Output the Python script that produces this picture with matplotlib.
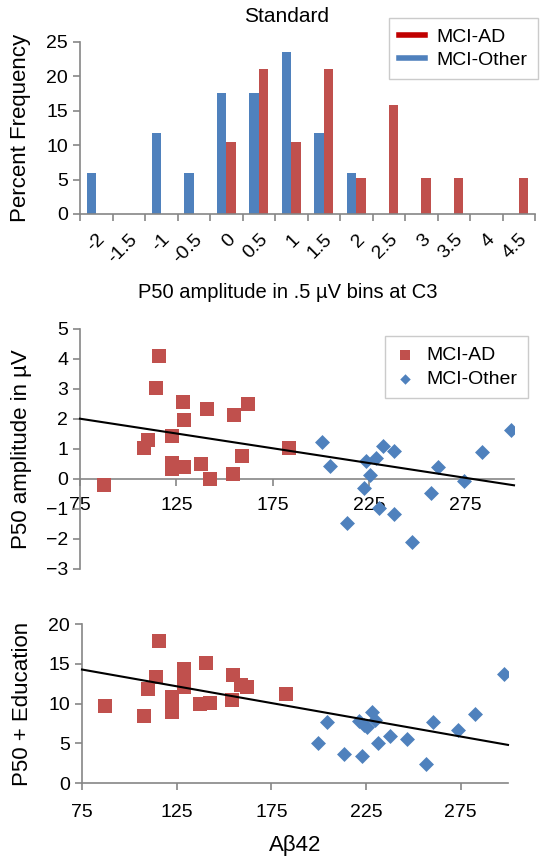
import matplotlib
matplotlib.use("Agg")
import matplotlib.pyplot as plt
from matplotlib.lines import Line2D
import numpy as np

plt.rcParams['font.family'] = ['Liberation Sans', 'DejaVu Sans']

# histogram of P50 amplitude (percent of each group per .5 uV bin)
bins = ['-2', '-1.5', '-1', '-0.5', '0', '0.5', '1', '1.5', '2', '2.5', '3', '3.5', '4', '4.5']
pct_other = [5.9, 0, 11.8, 5.9, 17.6, 17.6, 23.5, 11.8, 5.9, 0, 0, 0, 0, 0]
pct_ad = [0, 0, 0, 0, 10.5, 21.1, 10.5, 21.1, 5.3, 15.8, 5.3, 5.3, 0, 5.3]

# MCI-AD scatter values
ad_abeta = [87.2, 108.2, 110.2, 114.2, 115.8, 122.7, 122.9, 122.9, 128.6, 128.9, 128.9,
            137.6, 140.7, 142.5, 154.3, 154.7, 159.1, 162.1, 183.2]
ad_p50 = [-0.2, 1.04, 1.3, 3.02, 4.09, 1.41, 0.54, 0.32, 2.56, 1.97, 0.4,
          0.5, 2.31, 0.0, 0.16, 2.12, 0.76, 2.48, 1.02]
ad_abeta_edu = [87.0, 108.0, 109.8, 113.9, 115.5, 122.7, 122.7, 122.7, 128.8, 128.8, 128.8,
                137.3, 140.4, 142.6, 154.1, 154.8, 158.9, 162.0, 182.8]
ad_p50_edu = [9.7, 8.4, 11.9, 13.3, 17.9, 10.8, 10.0, 9.0, 14.4, 12.6, 12.1,
              10.0, 15.1, 10.1, 10.5, 13.6, 12.4, 12.1, 11.2]

# MCI-Other scatter values
oth_abeta = [200.3, 204.8, 213.5, 222.1, 223.3, 225.3, 228.4, 229.9, 232.0, 238.0, 238.0,
             246.9, 257.1, 260.7, 274.2, 283.2, 298.5]
oth_p50 = [1.24, 0.43, -1.46, -0.31, 0.58, 0.14, 0.68, -0.98, 1.08, 0.93, -1.18,
           -2.1, -0.46, 0.4, -0.07, 0.9, 1.62]
oth_abeta_edu = [199.8, 204.4, 213.2, 221.4, 222.9, 224.1, 225.3, 228.1, 229.9, 231.3, 237.6,
                 246.4, 256.6, 260.3, 273.6, 282.6, 298.0]
oth_p50_edu = [5.0, 7.7, 3.6, 7.8, 3.4, 7.3, 7.0, 8.9, 8.0, 5.1, 5.9,
               5.6, 2.4, 7.7, 6.7, 8.7, 13.7]

# linear trend lines as drawn in the original (value at x=75 and at x=300)
trend_x = [75, 300]
trend_amp = [2.0, -0.22]
trend_edu = [14.3, 4.8]

red = '#C0504D'
blue = '#4F81BD'
gray = '#868686'

fig = plt.figure(figsize=(5.48, 8.64), dpi=100)


def style_axes(ax):
    for s in ['top', 'right']:
        ax.spines[s].set_visible(False)
    for s in ['left', 'bottom']:
        ax.spines[s].set_color(gray)
        ax.spines[s].set_linewidth(1.2)
    ax.tick_params(colors=gray, labelcolor='black', labelsize=14, length=5, width=1.2)


# ---- top: histogram ----
ax1 = fig.add_axes([80 / 548, 1 - 214 / 864, 455 / 548, 172 / 864])
style_axes(ax1)
x = np.arange(len(bins))
w = 1 / 3.5
ax1.bar(x - w / 2, pct_other, width=w, color=blue)
ax1.bar(x + w / 2, pct_ad, width=w, color=red)
ax1.set_xlim(-0.5, len(bins) - 0.5)
ax1.set_ylim(0, 25)
ax1.set_yticks(range(0, 26, 5))
ax1.set_xticks(np.arange(-0.5, len(bins)), [''] * (len(bins) + 1))
ax1.set_xticks(x, bins, minor=True)
ax1.tick_params(axis='x', which='minor', length=0, pad=12)
for lab in ax1.get_xticklabels(minor=True):
    lab.set_rotation(45)
    lab.set_ha('right')
    lab.set_va('top')
    lab.set_rotation_mode('anchor')
    lab.set_fontsize(14)
ax1.set_ylabel('Percent Frequency', fontsize=16, labelpad=11)
fig.text(287 / 548, 1 - 17 / 864, 'Standard', ha='center', va='center', fontsize=15)
fig.text(288 / 548, 1 - 292 / 864, 'P50 amplitude in .5 µV bins at C3', ha='center', va='center', fontsize=14.5)
handles = [Line2D([], [], color='#C00000', lw=4), Line2D([], [], color=blue, lw=4)]
leg1 = fig.legend(handles, ['MCI-AD', 'MCI-Other'], loc='upper right',
                  bbox_to_anchor=(538 / 548, 1 - 18 / 864), fontsize=14, fancybox=False,
                  edgecolor='#BFBFBF', handlelength=1.3, borderpad=0.55, labelspacing=0.25,
                  handletextpad=0.6, borderaxespad=0)
leg1.get_frame().set_linewidth(1.0)

# ---- middle: P50 amplitude vs Abeta42 ----
ax2 = fig.add_axes([80 / 548, 1 - 568.7 / 864, 434 / 548, 240 / 864])
style_axes(ax2)
ax2.spines['bottom'].set_position(('data', 0))
ax2.scatter(ad_abeta, ad_p50, marker='s', s=90, color=red, linewidths=0, label='MCI-AD', zorder=3)
ax2.scatter(oth_abeta, oth_p50, marker='D', s=58, color=blue, linewidths=0, label='MCI-Other', zorder=3)
ax2.plot(trend_x, trend_amp, color='black', lw=1.5, zorder=4, clip_on=False)
ax2.set_xlim(75, 300)
ax2.set_ylim(-3, 5)
ax2.set_xticks(range(75, 300, 50))
ax2.set_yticks(range(-3, 6))
ax2.tick_params(axis='x', pad=8)
ax2.set_ylabel('P50 amplitude in µV', fontsize=16, labelpad=10)
leg2 = fig.legend(*ax2.get_legend_handles_labels(), loc='upper right',
                  bbox_to_anchor=(528 / 548, 1 - 336 / 864), fontsize=14, fancybox=False,
                  edgecolor='#BFBFBF', handlelength=1.0, borderpad=0.55, labelspacing=0.3,
                  scatterpoints=1, markerscale=0.7, handletextpad=0.6, borderaxespad=0)
leg2.get_frame().set_linewidth(1.0)

# ---- bottom: P50 + Education vs Abeta42 ----
ax3 = fig.add_axes([82 / 548, 1 - 783 / 864, 426 / 548, 158.7 / 864])
style_axes(ax3)
ax3.scatter(ad_abeta_edu, ad_p50_edu, marker='s', s=90, color=red, linewidths=0, zorder=3)
ax3.scatter(oth_abeta_edu, oth_p50_edu, marker='D', s=58, color=blue, linewidths=0, zorder=3)
ax3.plot(trend_x, trend_edu, color='black', lw=1.5, zorder=4, clip_on=False)
ax3.set_xlim(75, 300)
ax3.set_ylim(0, 20)
ax3.set_xticks(range(75, 300, 50))
ax3.set_yticks(range(0, 21, 5))
ax3.tick_params(axis='x', pad=10)
ax3.set_ylabel('P50 + Education', fontsize=16, labelpad=11)
ax3.set_xlabel('Aβ42', fontsize=16, labelpad=10)

fig.savefig('out.png', dpi=100)
